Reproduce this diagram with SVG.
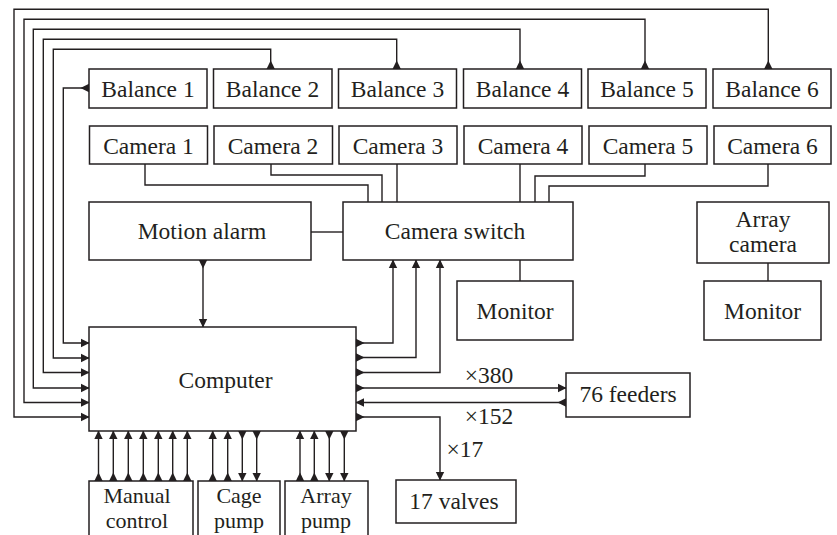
<svg xmlns="http://www.w3.org/2000/svg" width="837" height="535" viewBox="0 0 837 535">
<style>
  .box { fill: #fff; stroke: #231f20; stroke-width: 1.5; }
  .lbl { font-family: "Liberation Serif", "Times New Roman", serif; font-size: 23.5px; fill: #231f20; text-anchor: middle; }
  .sm { font-size: 22px; }
  .wire { fill: none; stroke: #231f20; stroke-width: 1.4; }
  .arr { marker-start: url(#tail); marker-end: url(#head); }
</style>
<defs>
  <marker id="head" markerUnits="userSpaceOnUse" markerWidth="10" markerHeight="10" refX="8" refY="0" viewBox="0 -5 10 10" orient="auto" overflow="visible">
    <path d="M0,-4.2 L8.5,0 L0,4.2 z" fill="#231f20"/>
  </marker>
  <marker id="tail" markerUnits="userSpaceOnUse" markerWidth="10" markerHeight="10" refX="0" refY="0" viewBox="0 -5 10 10" orient="auto" overflow="visible">
    <path d="M0,-4.2 L8.5,0 L0,4.2 z" fill="#231f20"/>
  </marker>
</defs>

<g id="connectors">
  <!-- balances to computer -->
  <path class="wire arr" d="M89,88 H63.3 V343 H89"/>
  <path class="wire arr" d="M270.7,69 V49.3 H53.3 V358 H89"/>
  <path class="wire arr" d="M396.7,69 V39.3 H43.3 V372.5 H89"/>
  <path class="wire arr" d="M520,69 V29.3 H33.3 V388 H89"/>
  <path class="wire arr" d="M645,69 V19.3 H24 V402.5 H89"/>
  <path class="wire arr" d="M768.3,69 V9.3 H14 V417 H89"/>
  <!-- cameras to switch -->
  <path class="wire" d="M145,164 V185 H368 V202"/>
  <path class="wire" d="M271,164 V175 H382 V202"/>
  <path class="wire" d="M397,164 V202"/>
  <path class="wire" d="M520,164 V202"/>
  <path class="wire" d="M645,164 V176 H535 V202"/>
  <path class="wire" d="M768,164 V186 H549 V202"/>
  <!-- motion alarm -->
  <path class="wire" d="M311,232 H343"/>
  <path class="wire arr" d="M203,260 V327"/>
  <!-- monitors -->
  <path class="wire" d="M520,260 V281"/>
  <path class="wire" d="M768,263 V281"/>
  <!-- computer right side -->
  <path class="wire arr" d="M356,343 H393 V260"/>
  <path class="wire arr" d="M356,357.5 H416 V260"/>
  <path class="wire arr" d="M356,372.5 H440 V260"/>
  <path class="wire arr" d="M356,388 H566"/>
  <path class="wire arr" d="M566,402.5 H356"/>
  <path class="wire arr" d="M356,417 H440 V480"/>
  <!-- bottom: manual control -->
  <path class="wire arr" d="M98.5,481 V431"/>
  <path class="wire arr" d="M113.3,481 V431"/>
  <path class="wire arr" d="M128.3,481 V431"/>
  <path class="wire arr" d="M143.3,481 V431"/>
  <path class="wire arr" d="M158.3,481 V431"/>
  <path class="wire arr" d="M172.7,481 V431"/>
  <path class="wire arr" d="M187.3,481 V431"/>
  <!-- cage pump -->
  <path class="wire arr" d="M212.7,481 V431"/>
  <path class="wire arr" d="M227.7,481 V431"/>
  <path class="wire arr" d="M242.3,431 V481"/>
  <path class="wire arr" d="M256.7,431 V481"/>
  <!-- array pump -->
  <path class="wire arr" d="M300,481 V431"/>
  <path class="wire arr" d="M314.3,481 V431"/>
  <path class="wire arr" d="M329.3,431 V481"/>
  <path class="wire arr" d="M344.3,431 V481"/>
</g>

<g id="balance1"><rect class="box" x="89" y="69" width="118" height="39"/><text class="lbl" x="148" y="97">Balance 1</text></g>
<g id="balance2"><rect class="box" x="213.5" y="69" width="118.5" height="39"/><text class="lbl" x="272.5" y="97">Balance 2</text></g>
<g id="balance3"><rect class="box" x="338.5" y="69" width="118" height="39"/><text class="lbl" x="397.5" y="97">Balance 3</text></g>
<g id="balance4"><rect class="box" x="463.5" y="69" width="118" height="39"/><text class="lbl" x="522.5" y="97">Balance 4</text></g>
<g id="balance5"><rect class="box" x="588" y="69" width="118" height="39"/><text class="lbl" x="647" y="97">Balance 5</text></g>
<g id="balance6"><rect class="box" x="713" y="69" width="118" height="39"/><text class="lbl" x="772" y="97">Balance 6</text></g>

<g id="camera1"><rect class="box" x="89.5" y="126" width="118" height="38"/><text class="lbl" x="148.5" y="153.5">Camera 1</text></g>
<g id="camera2"><rect class="box" x="214" y="126" width="118.5" height="38"/><text class="lbl" x="273" y="153.5">Camera 2</text></g>
<g id="camera3"><rect class="box" x="339" y="126" width="118" height="38"/><text class="lbl" x="398" y="153.5">Camera 3</text></g>
<g id="camera4"><rect class="box" x="464" y="126" width="118" height="38"/><text class="lbl" x="523" y="153.5">Camera 4</text></g>
<g id="camera5"><rect class="box" x="589" y="126" width="118" height="38"/><text class="lbl" x="648" y="153.5">Camera 5</text></g>
<g id="camera6"><rect class="box" x="714" y="126" width="117" height="38"/><text class="lbl" x="772.5" y="153.5">Camera 6</text></g>

<g id="motion-alarm"><rect class="box" x="89" y="202" width="222" height="58"/><text class="lbl" x="202" y="239">Motion alarm</text></g>
<g id="camera-switch"><rect class="box" x="343" y="202" width="230" height="58"/><text class="lbl" x="455" y="239">Camera switch</text></g>
<g id="monitor1"><rect class="box" x="457" y="281" width="116" height="59"/><text class="lbl" x="515" y="318.5">Monitor</text></g>
<g id="array-camera"><rect class="box" x="697" y="202" width="132" height="61"/><text class="lbl" x="763" y="227">Array</text><text class="lbl" x="763" y="252">camera</text></g>
<g id="monitor2"><rect class="box" x="704" y="281" width="117" height="59"/><text class="lbl" x="762.5" y="318.5">Monitor</text></g>

<g id="computer"><rect class="box" x="89" y="327" width="267" height="104"/><text class="lbl" x="225.5" y="388">Computer</text></g>

<g id="feeders"><rect class="box" x="566" y="373" width="124" height="44"/><text class="lbl" x="628" y="402">76 feeders</text></g>
<g id="valves"><rect class="box" x="396" y="480" width="120" height="43"/><text class="lbl" x="454" y="509">17 valves</text></g>

<g id="manual-control"><path class="box" d="M89,540 V481 H193 V540"/><text class="lbl sm" x="137" y="502.5">Manual</text><text class="lbl sm" x="137" y="527.5">control</text></g>
<g id="cage-pump"><path class="box" d="M198,540 V481 H280 V540"/><text class="lbl sm" x="239" y="502.5">Cage</text><text class="lbl sm" x="239" y="527.5">pump</text></g>
<g id="array-pump"><path class="box" d="M285,540 V481 H368 V540"/><text class="lbl sm" x="326" y="502.5">Array</text><text class="lbl sm" x="326" y="527.5">pump</text></g>

<g id="labels">
  <text class="lbl" x="489" y="383">×380</text>
  <text class="lbl" x="489" y="424">×152</text>
  <text class="lbl" x="465" y="457">×17</text>
</g>
</svg>
